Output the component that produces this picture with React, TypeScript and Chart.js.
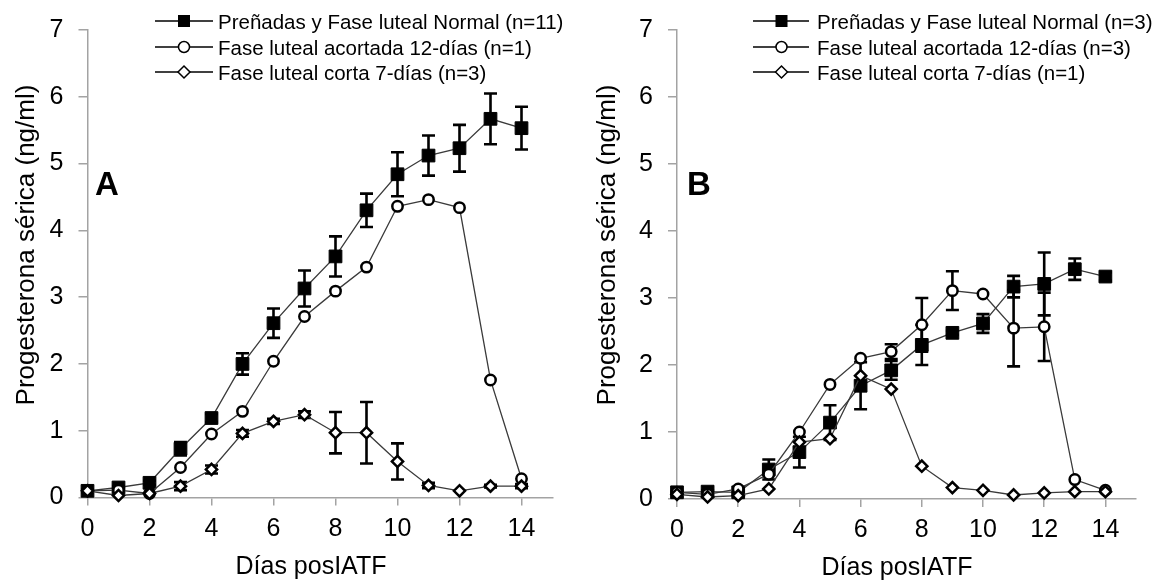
import React, { useEffect, useRef } from 'react';
import { Chart, registerables } from 'chart.js';

Chart.register(...registerables);

// ---------- data ----------
const DAYS = [0, 1, 2, 3, 4, 5, 6, 7, 8, 9, 10, 11, 12, 13, 14];
const X_TICKS = [0, 2, 4, 6, 8, 10, 12, 14];
const Y_TICKS = [0, 1, 2, 3, 4, 5, 6, 7];

const X_TITLE = 'Días posIATF';
const Y_TITLE = 'Progesterona sérica (ng/ml)';

// Panel A
const A_LABELS = [
  'Preñadas y Fase luteal Normal (n=11)',
  'Fase luteal acortada 12-días (n=1)',
  'Fase luteal corta 7-días (n=3)',
];
const A_NORMAL = [0.1, 0.15, 0.22, 0.73, 1.19, 2.0, 2.61, 3.13, 3.61, 4.3, 4.84, 5.12, 5.23, 5.67, 5.53];
const A_NORMAL_SE = [0.02, 0.02, 0.03, 0.1, 0.06, 0.16, 0.22, 0.27, 0.3, 0.25, 0.33, 0.3, 0.35, 0.38, 0.32];
const A_SHORT12 = [0.1, 0.11, 0.06, 0.45, 0.95, 1.29, 2.04, 2.71, 3.09, 3.45, 4.36, 4.46, 4.34, 1.76, 0.28];
const A_SHORT12_SE = [0, 0, 0, 0, 0, 0, 0, 0, 0, 0, 0, 0, 0, 0, 0];
const A_SHORT7 = [0.1, 0.03, 0.06, 0.17, 0.42, 0.96, 1.14, 1.24, 0.97, 0.97, 0.54, 0.18, 0.1, 0.17, 0.17];
const A_SHORT7_SE = [0.01, 0.01, 0.01, 0.06, 0.06, 0.05, 0.04, 0.05, 0.31, 0.46, 0.27, 0.04, 0.01, 0.02, 0.03];

// Panel B
const B_LABELS = [
  'Preñadas y Fase luteal Normal (n=3)',
  'Fase luteal acortada 12-días (n=3)',
  'Fase luteal corta 7-días (n=1)',
];
const B_NORMAL = [0.1, 0.11, 0.1, 0.44, 0.7, 1.14, 1.69, 1.92, 2.3, 2.48, 2.62, 3.17, 3.21, 3.43, 3.32];
const B_NORMAL_SE = [0.02, 0.02, 0.02, 0.15, 0.23, 0.26, 0.35, 0.14, 0.3, 0.03, 0.14, 0.16, 0.47, 0.16, 0.06];
const B_SHORT12 = [0.1, 0.07, 0.15, 0.37, 1.0, 1.71, 2.1, 2.2, 2.6, 3.11, 3.06, 2.55, 2.57, 0.29, 0.13];
const B_SHORT12_SE = [0, 0, 0, 0, 0, 0, 0, 0.11, 0.4, 0.29, 0, 0.57, 0.51, 0, 0];
const B_SHORT7 = [0.07, 0.03, 0.05, 0.15, 0.85, 0.9, 1.84, 1.64, 0.49, 0.17, 0.13, 0.06, 0.09, 0.11, 0.11];
const B_SHORT7_SE = [0, 0, 0, 0, 0, 0, 0, 0, 0, 0, 0, 0, 0, 0, 0];

// ---------- styles ----------
const FONT = '"Liberation Sans", Arial, Helvetica, sans-serif';
const AXIS_COLOR = '#a3a3a3';
const LINE_COLOR = '#3a3a3a';
const H = 583;

type Marker = 'square' | 'circle' | 'diamond';
const MARKERS: Marker[] = ['square', 'circle', 'diamond'];

interface PanelSpec {
  left: number;
  w: number;
  padRight: number;
  padTop: number;
  yAxisW: number;
  xAxisH: number;
  tickPadY: number;
  yTitleX: number;
  yTitleY: number;
  xTitleX: number;
  xTitleY: number;
  letter: string;
  letterX: number;
  letterY: number;
  legX1: number;
  legX2: number;
  legMX: number;
  legTX: number;
  legRows: number[];
  labels: string[];
  values: number[][];
  errors: number[][];
}

const PANEL_A: PanelSpec = {
  left: 0, w: 578, padRight: 25.5, padTop: 23.5, yAxisW: 87.5, xAxisH: 85.5, tickPadY: 15,
  yTitleX: 33.5, yTitleY: 245, xTitleX: 311, xTitleY: 574,
  letter: 'A', letterX: 95, letterY: 195,
  legX1: 155, legX2: 213, legMX: 184, legTX: 218, legRows: [21, 47, 72],
  labels: A_LABELS,
  values: [A_NORMAL, A_SHORT12, A_SHORT7],
  errors: [A_NORMAL_SE, A_SHORT12_SE, A_SHORT7_SE],
};

const PANEL_B: PanelSpec = {
  left: 578, w: 579, padRight: 21, padTop: 25.8, yAxisW: 99, xAxisH: 84, tickPadY: 15,
  yTitleX: 37, yTitleY: 245, xTitleX: 319, xTitleY: 575,
  letter: 'B', letterX: 109, letterY: 195,
  legX1: 175, legX2: 231, legMX: 203.5, legTX: 239, legRows: [21, 47, 72],
  labels: B_LABELS,
  values: [B_NORMAL, B_SHORT12, B_SHORT7],
  errors: [B_NORMAL_SE, B_SHORT12_SE, B_SHORT7_SE],
};

function drawLegendMarker(ctx: CanvasRenderingContext2D, m: Marker, x: number, y: number) {
  ctx.save();
  ctx.strokeStyle = '#000';
  if (m === 'square') {
    ctx.fillStyle = '#000';
    ctx.fillRect(x - 6, y - 6, 12, 12);
  } else if (m === 'circle') {
    ctx.fillStyle = '#fff';
    ctx.lineWidth = 1.5;
    ctx.beginPath();
    ctx.arc(x, y, 5.5, 0, Math.PI * 2);
    ctx.fill();
    ctx.stroke();
  } else {
    ctx.fillStyle = '#fff';
    ctx.lineWidth = 1.5;
    ctx.beginPath();
    ctx.moveTo(x - 6, y);
    ctx.lineTo(x, y - 6);
    ctx.lineTo(x + 6, y);
    ctx.lineTo(x, y + 6);
    ctx.closePath();
    ctx.fill();
    ctx.stroke();
  }
  ctx.restore();
}

function makePlugins(spec: PanelSpec) {
  const errorBars = {
    id: 'errorBars',
    beforeDatasetsDraw(chart: any) {
      const ctx: CanvasRenderingContext2D = chart.ctx;
      const ys = chart.scales.y;
      ctx.save();
      ctx.strokeStyle = '#000';
      ctx.lineWidth = 2.6;
      spec.errors.forEach((errs, i) => {
        const meta = chart.getDatasetMeta(i);
        errs.forEach((e, j) => {
          if (!e || e < 0.015) return;
          const pt = meta.data[j];
          const v = spec.values[i][j];
          const x = pt.x;
          const yt = ys.getPixelForValue(v + e);
          const yb = ys.getPixelForValue(Math.max(v - e, 0));
          ctx.beginPath();
          ctx.moveTo(x, yt);
          ctx.lineTo(x, yb);
          ctx.moveTo(x - 6.5, yt);
          ctx.lineTo(x + 6.5, yt);
          ctx.moveTo(x - 6.5, yb);
          ctx.lineTo(x + 6.5, yb);
          ctx.stroke();
        });
      });
      ctx.restore();
    },
  };

  const decor = {
    id: 'decor',
    afterDraw(chart: any) {
      const ctx: CanvasRenderingContext2D = chart.ctx;
      ctx.save();
      ctx.fillStyle = '#000';
      // y title
      ctx.save();
      ctx.translate(spec.yTitleX, spec.yTitleY);
      ctx.rotate(-Math.PI / 2);
      ctx.font = `26px ${FONT}`;
      ctx.textAlign = 'center';
      ctx.textBaseline = 'alphabetic';
      ctx.fillText(Y_TITLE, 0, 0);
      ctx.restore();
      // x title
      ctx.font = `25px ${FONT}`;
      ctx.textAlign = 'center';
      ctx.textBaseline = 'alphabetic';
      ctx.fillText(X_TITLE, spec.xTitleX, spec.xTitleY);
      // panel letter
      ctx.font = `bold 33px ${FONT}`;
      ctx.textAlign = 'left';
      ctx.fillText(spec.letter, spec.letterX, spec.letterY);
      // legend
      ctx.font = `20.5px ${FONT}`;
      spec.labels.forEach((lab, i) => {
        const y = spec.legRows[i];
        ctx.strokeStyle = '#000';
        ctx.lineWidth = 1.3;
        ctx.beginPath();
        ctx.moveTo(spec.legX1, y);
        ctx.lineTo(spec.legX2, y);
        ctx.stroke();
        drawLegendMarker(ctx, MARKERS[i], spec.legMX, y);
        ctx.fillStyle = '#000';
        ctx.textAlign = 'left';
        ctx.textBaseline = 'alphabetic';
        ctx.fillText(lab, spec.legTX, y + 7.5);
      });
      ctx.restore();
    },
  };
  return [errorBars, decor];
}

function Panel({ spec }: { spec: PanelSpec }) {
  const ref = useRef<HTMLCanvasElement>(null);
  useEffect(() => {
    const canvas = ref.current;
    if (!canvas) return;
    const radii = [9, 5.2, 5.6];
    const borders = [1, 2.5, 2.5];
    const styles = ['rect', 'circle', 'rectRot'];
    const chart = new Chart(canvas, {
      type: 'line',
      data: {
        datasets: spec.values.map((vals, i) => ({
          label: spec.labels[i],
          data: DAYS.map((d, j) => ({ x: d, y: vals[j] })),
          borderColor: LINE_COLOR,
          borderWidth: 1.3,
          showLine: true,
          tension: 0,
          fill: false,
          pointStyle: styles[i] as any,
          pointRadius: radii[i],
          pointHoverRadius: radii[i],
          pointBorderWidth: borders[i],
          pointBackgroundColor: i === 0 ? '#000' : '#fff',
          pointBorderColor: '#000',
          order: 3 - i,
          clip: false as any,
        })),
      },
      options: {
        animation: false,
        responsive: false,
        devicePixelRatio: 1,
        events: [],
        layout: { padding: { left: 0, right: spec.padRight, top: spec.padTop, bottom: 0 } },
        plugins: {
          legend: { display: false },
          tooltip: { enabled: false },
          title: { display: false },
        },
        scales: {
          x: {
            type: 'linear',
            min: 0,
            max: 15,
            afterBuildTicks: (s: any) => {
              s.ticks = X_TICKS.map((v) => ({ value: v }));
            },
            afterFit: (s: any) => {
              s.height = spec.xAxisH;
            },
            grid: {
              display: true,
              drawOnChartArea: false,
              drawTicks: true,
              tickLength: 8,
              color: AXIS_COLOR,
              lineWidth: 1.5,
            },
            border: { display: true, color: AXIS_COLOR, width: 1.5 },
            ticks: {
              color: '#000',
              font: { family: FONT, size: 25 },
              padding: 8.5,
              maxRotation: 0,
              autoSkip: false,
            },
          },
          y: {
            type: 'linear',
            min: 0,
            max: 7,
            afterBuildTicks: (s: any) => {
              s.ticks = Y_TICKS.map((v) => ({ value: v }));
            },
            afterFit: (s: any) => {
              s.width = spec.yAxisW;
            },
            grid: {
              display: true,
              drawOnChartArea: false,
              drawTicks: true,
              tickLength: 9,
              color: AXIS_COLOR,
              lineWidth: 1.5,
            },
            border: { display: true, color: AXIS_COLOR, width: 1.5 },
            ticks: {
              color: '#000',
              font: { family: FONT, size: 25 },
              padding: spec.tickPadY,
              autoSkip: false,
            },
          },
        },
      },
      plugins: makePlugins(spec) as any,
    });
    return () => chart.destroy();
  }, [spec]);
  return (
    <canvas
      ref={ref}
      width={spec.w}
      height={H}
      style={{ position: 'absolute', left: spec.left, top: 0, width: spec.w, height: H }}
    />
  );
}

export default function App() {
  return (
    <div
      style={{
        position: 'absolute',
        left: 0,
        top: 0,
        width: 1157,
        height: H,
        background: '#fff',
        overflow: 'hidden',
      }}
    >
      <Panel spec={PANEL_A} />
      <Panel spec={PANEL_B} />
    </div>
  );
}
